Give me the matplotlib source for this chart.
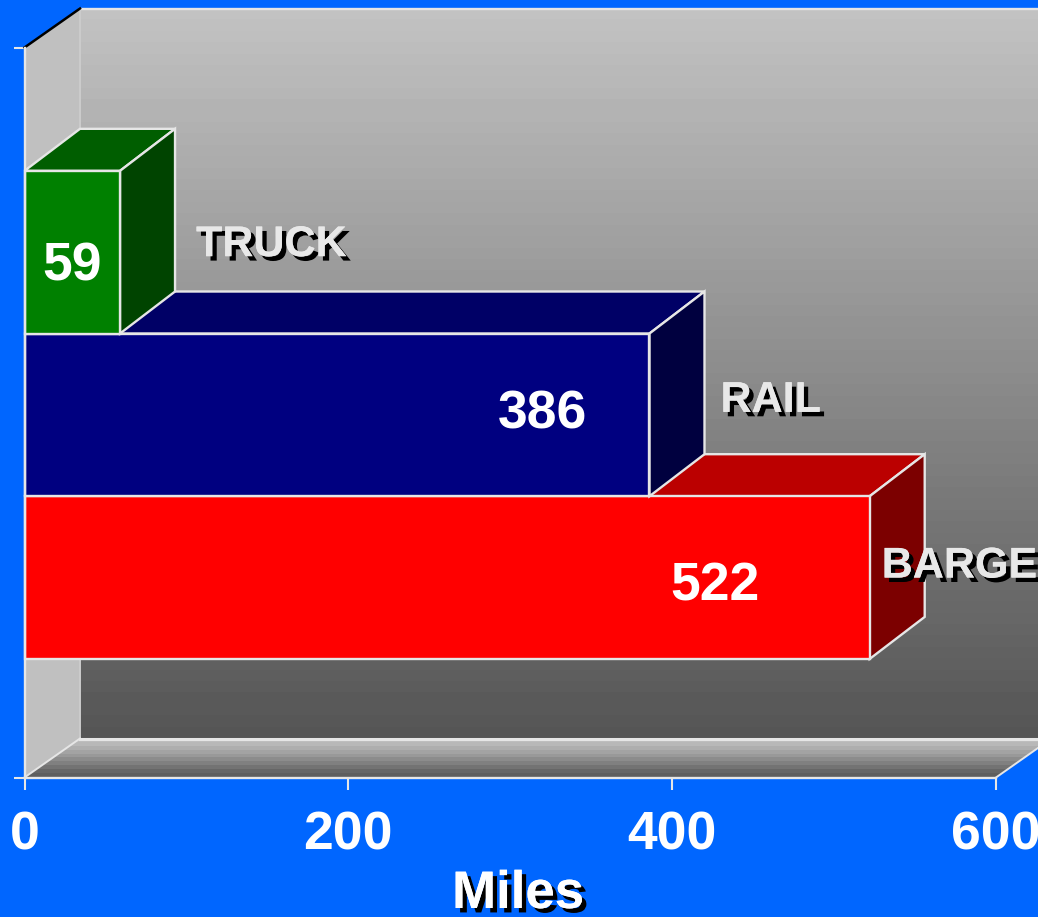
import numpy as np
import matplotlib
matplotlib.use("Agg")
import matplotlib.pyplot as plt
import matplotlib.patheffects as pe
from matplotlib.patches import Polygon

categories = ["BARGE", "RAIL", "TRUCK"]
miles = [522, 386, 59]
front_colors = ["#ff0000", "#000080", "#008000"]
top_colors = ["#bb0000", "#000066", "#005e00"]
side_colors = ["#7c0000", "#00003f", "#004400"]
x_ticks = [0, 200, 400, 600]

W, H = 1038, 917
BG = "#0066ff"
LINE = "#e6e6e6"
plt.rcParams["font.family"] = ["Liberation Sans", "DejaVu Sans"]

fig = plt.figure(figsize=(W / 100, H / 100), dpi=100, facecolor=BG)
L, R, B, T = 24.5, 996.0, 777.5, 47.5
ax = fig.add_axes([L / W, 1 - B / H, (R - L) / W, (B - T) / H])
ax.patch.set_visible(False)

XMAX = 600
YMIN, YMAX = -1.229, 3.258
xs = (R - L) / XMAX
ys = (B - T) / (YMAX - YMIN)
WALL_DX, WALL_DY = 55.5 / xs, 39 / ys
BAR_DX, BAR_DY = 55 / xs, 42 / ys
lw = 1.7

# back wall gradient
grad = np.linspace(0.76, 0.335, 64).reshape(-1, 1)
right_edge = 640
ax.imshow(grad, cmap="gray", vmin=0, vmax=1, aspect="auto", interpolation="nearest",
          extent=[WALL_DX, right_edge, YMIN + WALL_DY, YMAX + WALL_DY],
          clip_on=False, zorder=0)

# left wall
ax.add_patch(Polygon([(0, YMIN), (WALL_DX, YMIN + WALL_DY), (WALL_DX, YMAX + WALL_DY), (0, YMAX)],
                     fc="#c0c0c0", ec="none", clip_on=False, zorder=1))

# floor with banded gradient
floor_poly = Polygon([(0, YMIN), (XMAX, YMIN), (XMAX + WALL_DX, YMIN + WALL_DY), (WALL_DX, YMIN + WALL_DY)],
                     transform=ax.transData, fc="none", ec="none")
bands = np.array([0.74, 0.72, 0.68, 0.64, 0.60, 0.55, 0.50, 0.45, 0.40, 0.37]).reshape(-1, 1)
im = ax.imshow(bands, cmap="gray", vmin=0, vmax=1, aspect="auto", interpolation="nearest",
               extent=[0, XMAX + WALL_DX, YMIN, YMIN + WALL_DY], zorder=1)
im.set_clip_box(fig.bbox)
im.set_clip_path(floor_poly)

# wall edges
ax.plot([WALL_DX, WALL_DX], [YMIN + WALL_DY, YMAX + WALL_DY], color="#cccccc", lw=1.4, clip_on=False, zorder=2)
ax.plot([WALL_DX, right_edge], [YMAX + WALL_DY] * 2, color=LINE, lw=lw, clip_on=False, zorder=2)
ax.plot([WALL_DX, right_edge], [YMIN + WALL_DY] * 2, color=LINE, lw=2.2, clip_on=False, zorder=2)
ax.plot([0, WALL_DX], [YMIN, YMIN + WALL_DY], color=LINE, lw=1.4, clip_on=False, zorder=2)
ax.plot([XMAX, XMAX + WALL_DX], [YMIN, YMIN + WALL_DY], color=LINE, lw=1.4, clip_on=False, zorder=2)
ax.plot([0, WALL_DX], [YMAX, YMAX + WALL_DY], color="black", lw=1.8, clip_on=False, zorder=2)

# 3-D bars, drawn front to back in depth order
for i, (v, cf, ct, cs) in enumerate(zip(miles, front_colors, top_colors, side_colors)):
    y0, y1 = i - 0.5, i + 0.5
    z = 3 + i
    ax.add_patch(Polygon([(0, y1), (v, y1), (v + BAR_DX, y1 + BAR_DY), (WALL_DX, y1 + BAR_DY)],
                         fc=ct, ec=LINE, lw=lw, joinstyle="miter", clip_on=False, zorder=z))
    ax.add_patch(Polygon([(v, y0), (v + BAR_DX, y0 + BAR_DY), (v + BAR_DX, y1 + BAR_DY), (v, y1)],
                         fc=cs, ec=LINE, lw=lw, joinstyle="miter", clip_on=False, zorder=z))
    ax.barh(i, v, height=1, color=cf, edgecolor=LINE, linewidth=lw, zorder=z + 0.1, clip_on=False)

# value labels: pixel offset of the text centre from the bar end/centre
value_offsets = [(-155, -9), (-107, 0), (-48, -14)]
for i, (v, off) in enumerate(zip(miles, value_offsets)):
    ax.annotate(str(v), (v, i), xytext=(off[0] * 0.72, off[1] * 0.72), textcoords="offset points",
                ha="center", va="center", color="white", fontsize=38.5, fontweight="bold",
                zorder=10, annotation_clip=False)

# category labels with drop shadow
shadow = [pe.withSimplePatchShadow(offset=(3.2, -3.2), shadow_rgbFace="black", alpha=1), pe.Normal()]
name_offsets = [(12, 11), (71, 14), (76, 7)]
for i, (name, v, off) in enumerate(zip(categories, miles, name_offsets)):
    t = ax.annotate(name, (v, i), xytext=(off[0] * 0.72, off[1] * 0.72), textcoords="offset points",
                    ha="left", va="center", color="#e8e8e8", fontsize=31, fontweight="bold",
                    zorder=11, annotation_clip=False)
    t.set_path_effects(shadow)

# axes
ax.set_xlim(0, XMAX)
ax.set_ylim(YMIN, YMAX)
ax.set_xticks(x_ticks)
ax.set_yticks([YMIN, YMAX])
ax.set_yticklabels([])
ax.tick_params(axis="x", length=8.5, width=1.5, color=LINE, labelcolor="white", labelsize=38.5, pad=15)
ax.tick_params(axis="y", length=8, width=1.5, color=LINE)
for lab in ax.get_xticklabels():
    lab.set_fontweight("bold")
    lab.set_clip_on(False)
for s in ["top", "right"]:
    ax.spines[s].set_visible(False)
for s in ["left", "bottom"]:
    ax.spines[s].set_color(LINE)
    ax.spines[s].set_linewidth(1.7)
    ax.spines[s].set_zorder(9)

ml = fig.text(518 / W, 1 - 908 / H, "Miles", ha="center", va="baseline", color="white",
              fontsize=38, fontweight="bold")
ml.set_path_effects(shadow)

fig.savefig("out.png", dpi=100, facecolor=BG)
